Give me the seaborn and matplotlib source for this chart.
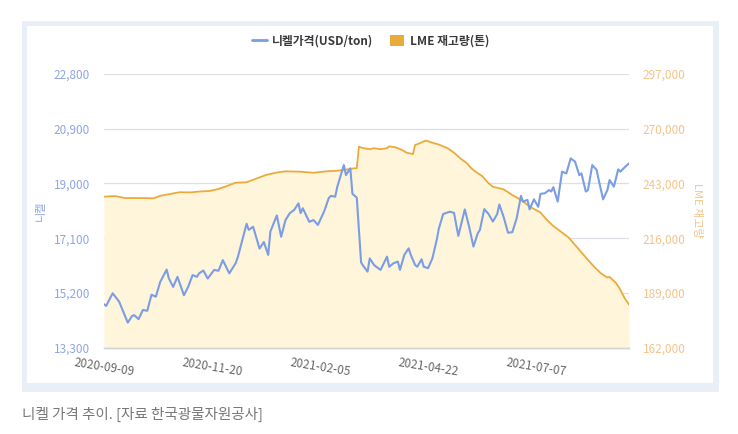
import matplotlib
matplotlib.use('Agg')
import matplotlib.pyplot as plt
import seaborn as sns
import pandas as pd
from matplotlib.lines import Line2D
from matplotlib.patches import Patch, Rectangle

# trading-day index (0 = 2020-09-09) and nickel price, USD/ton
price_day = [0, 1, 4, 7, 8, 11, 13, 14, 16, 18,
             20, 22, 24, 26, 29, 30, 32, 34, 37, 39,
             41, 43, 44, 46, 48, 51, 53, 55, 58, 61,
             62, 66, 67, 69, 72, 74, 76, 77, 80, 82,
             84, 86, 88, 90, 91, 92, 95, 97, 99, 102,
             104, 105, 107, 108, 111, 112, 114, 115, 117, 119,
             120, 122, 123, 125, 126, 128, 131, 132, 134, 136,
             137, 139, 141, 142, 144, 145, 147, 148, 150, 152,
             154, 155, 157, 160, 162, 164, 167, 169, 171, 173,
             174, 176, 178, 180, 182, 183, 185, 187, 189, 191,
             193, 194, 196, 197, 199, 201, 202, 204, 206, 207,
             208, 210, 212, 214, 216, 218, 220, 221, 223, 224,
             226, 228, 229, 231, 233, 234, 236, 238, 239, 241,
             243]
price_val = [14810, 14750, 15190, 14900, 14720, 14170, 14400, 14430, 14290, 14610,
             14580, 15140, 15070, 15580, 16010, 15710, 15410, 15760, 15120, 15420,
             15820, 15760, 15880, 15980, 15700, 16000, 15970, 16340, 15880, 16240,
             16460, 17600, 17390, 17500, 16740, 16970, 16520, 17330, 17890, 17150,
             17730, 17970, 18080, 18310, 17970, 18140, 17670, 17730, 17560, 18050,
             18490, 18570, 18540, 18890, 19640, 19290, 19530, 18640, 18510, 16260,
             16140, 15940, 16400, 16170, 16110, 16000, 16460, 16110, 16230, 16290,
             16000, 16520, 16750, 16520, 16170, 16110, 16370, 16110, 16060, 16400,
             17040, 17440, 17940, 18020, 17980, 17180, 18100, 17500, 16810, 17270,
             17390, 18110, 17940, 17680, 17940, 18270, 17830, 17290, 17310, 17790,
             18570, 18370, 18430, 18100, 18450, 18190, 18640, 18660, 18770, 18720,
             18870, 18370, 19410, 19350, 19870, 19760, 19290, 19350, 18720, 18770,
             19640, 19470, 19120, 18450, 18770, 19120, 18890, 19490, 19410, 19560,
             19700]

# LME nickel stocks, tonnes
stock_day = [0, 5, 10, 17, 23, 26, 30, 35, 40, 44,
             49, 53, 57, 61, 66, 71, 75, 80, 84, 91,
             97, 103, 108, 111, 116, 117, 118, 120, 123, 125,
             128, 131, 132, 135, 138, 140, 143, 144, 146, 149,
             152, 155, 159, 162, 165, 168, 170, 172, 175, 178,
             180, 185, 189, 193, 197, 202, 205, 208, 212, 215,
             218, 221, 224, 227, 230, 233, 234, 237, 239, 241,
             243]
stock_val = [236500, 236800, 235800, 235800, 235700, 236900, 237700, 238700, 238600, 239000,
             239300, 240300, 241800, 243400, 243600, 245600, 247200, 248400, 249000, 248800,
             248300, 249000, 249300, 249700, 250500, 250500, 261100, 260400, 259900, 260400,
             259900, 260400, 261300, 260800, 259500, 258200, 257500, 262000, 262800, 264200,
             263100, 262200, 260400, 258200, 255300, 253000, 250500, 248800, 246700, 243100,
             241400, 240100, 237300, 234900, 231600, 228700, 225000, 222000, 218800, 216400,
             212700, 209000, 205300, 201800, 198700, 196600, 196900, 193900, 190500, 186400,
             183300]

tick_days = [0, 50, 100, 150, 200]
tick_labels = ['2020-09-09', '2020-11-20', '2021-02-05', '2021-04-22', '2021-07-07']
left_ticks = [13300, 15200, 17100, 19000, 20900, 22800]
right_ticks = [162000, 189000, 216000, 243000, 270000, 297000]

BLUE = '#7a9de6'
ORANGE = '#ebab3a'
FILL = '#fff5da'
LEFT_TXT = '#8ea6e4'
RIGHT_TXT = '#f3c48a'

sns.set_theme(style='white')
plt.rcParams['font.family'] = ['Noto Sans CJK KR', 'DejaVu Sans']

fig = plt.figure(figsize=(7.38, 4.34), dpi=100)

# outer light-blue frame and white panel
fig.patches.append(Rectangle((22 / 738, 1 - 392 / 434), 697 / 738, 371 / 434,
                             transform=fig.transFigure, facecolor='#e9eff7',
                             edgecolor='none', zorder=-5))
fig.patches.append(Rectangle((27 / 738, 1 - 383 / 434), 686 / 738, 357 / 434,
                             transform=fig.transFigure, facecolor='white',
                             edgecolor='none', zorder=-4))

ax = fig.add_axes([104 / 738, 1 - 347.7 / 434, 525 / 738, 273.7 / 434])
ax2 = ax.twinx()
ax2.patch.set_visible(False)
ax.patch.set_visible(False)
ax.set_zorder(2)
ax2.set_zorder(1)

df_stock = pd.DataFrame({'day': stock_day, 'stock': stock_val})
df_price = pd.DataFrame({'day': price_day, 'price': price_val})

# grid sits behind the shaded stock area
for v in right_ticks[1:]:
    ax2.axhline(v, color='#dcdfe4', lw=0.9, zorder=0.5)
ax2.fill_between(df_stock['day'], df_stock['stock'], 162000, color=FILL, lw=0, zorder=1)
sns.lineplot(data=df_stock, x='day', y='stock', ax=ax2, color=ORANGE, lw=1.3)
sns.lineplot(data=df_price, x='day', y='price', ax=ax, color=BLUE, lw=1.5)

ax.set_xlim(0, 243)
ax.set_ylim(13300, 22800)
ax2.set_ylim(162000, 297000)

ax.set_yticks(left_ticks)
ax.set_yticklabels([f'{v:,}' for v in left_ticks], color=LEFT_TXT, fontsize=8.5)
ax2.set_yticks(right_ticks)
ax2.set_yticklabels([f'{v:,}' for v in right_ticks], color=RIGHT_TXT, fontsize=8.5)
ax.set_xticks(tick_days)
ax.set_xticklabels(tick_labels, rotation=-9, fontsize=8.5, color='#666666')

ax.tick_params(axis='y', length=0, pad=10)
ax2.tick_params(axis='y', length=0, pad=10)
ax.tick_params(axis='x', length=5, width=0.8, color='#d0d5dd', direction='out', pad=1)

ax.grid(False)
ax2.grid(False)
for a in (ax, ax2):
    for s in ['top', 'left', 'right']:
        a.spines[s].set_visible(False)
    a.spines['bottom'].set_color('#d0d5dd')
    a.spines['bottom'].set_linewidth(1.0)

ax.set_xlabel('')
ax2.set_xlabel('')
ax.set_ylabel('니켈', color=LEFT_TXT, fontsize=8, labelpad=6)
ax2.set_ylabel('LME 재고량', color=RIGHT_TXT, fontsize=8, rotation=270, labelpad=12)

handles = [Line2D([0], [0], color=BLUE, lw=2),
           Patch(facecolor=ORANGE, edgecolor='none')]
fig.legend(handles, ['니켈가격(USD/ton)', 'LME 재고량(톤)'], loc='center',
           bbox_to_anchor=(371 / 738, 1 - 41 / 434), ncol=2, frameon=False,
           handlelength=1.2, handleheight=1.0, handletextpad=0.5, columnspacing=1.4,
           labelcolor='#3a3a3a', prop={'weight': 'bold', 'size': 8.5})

fig.text(22 / 738, 1 - 414 / 434, '니켈 가격 추이. [자료 한국광물자원공사]',
         fontsize=10.5, color='#777777', va='center', ha='left')

fig.savefig('out.png', dpi=100)
